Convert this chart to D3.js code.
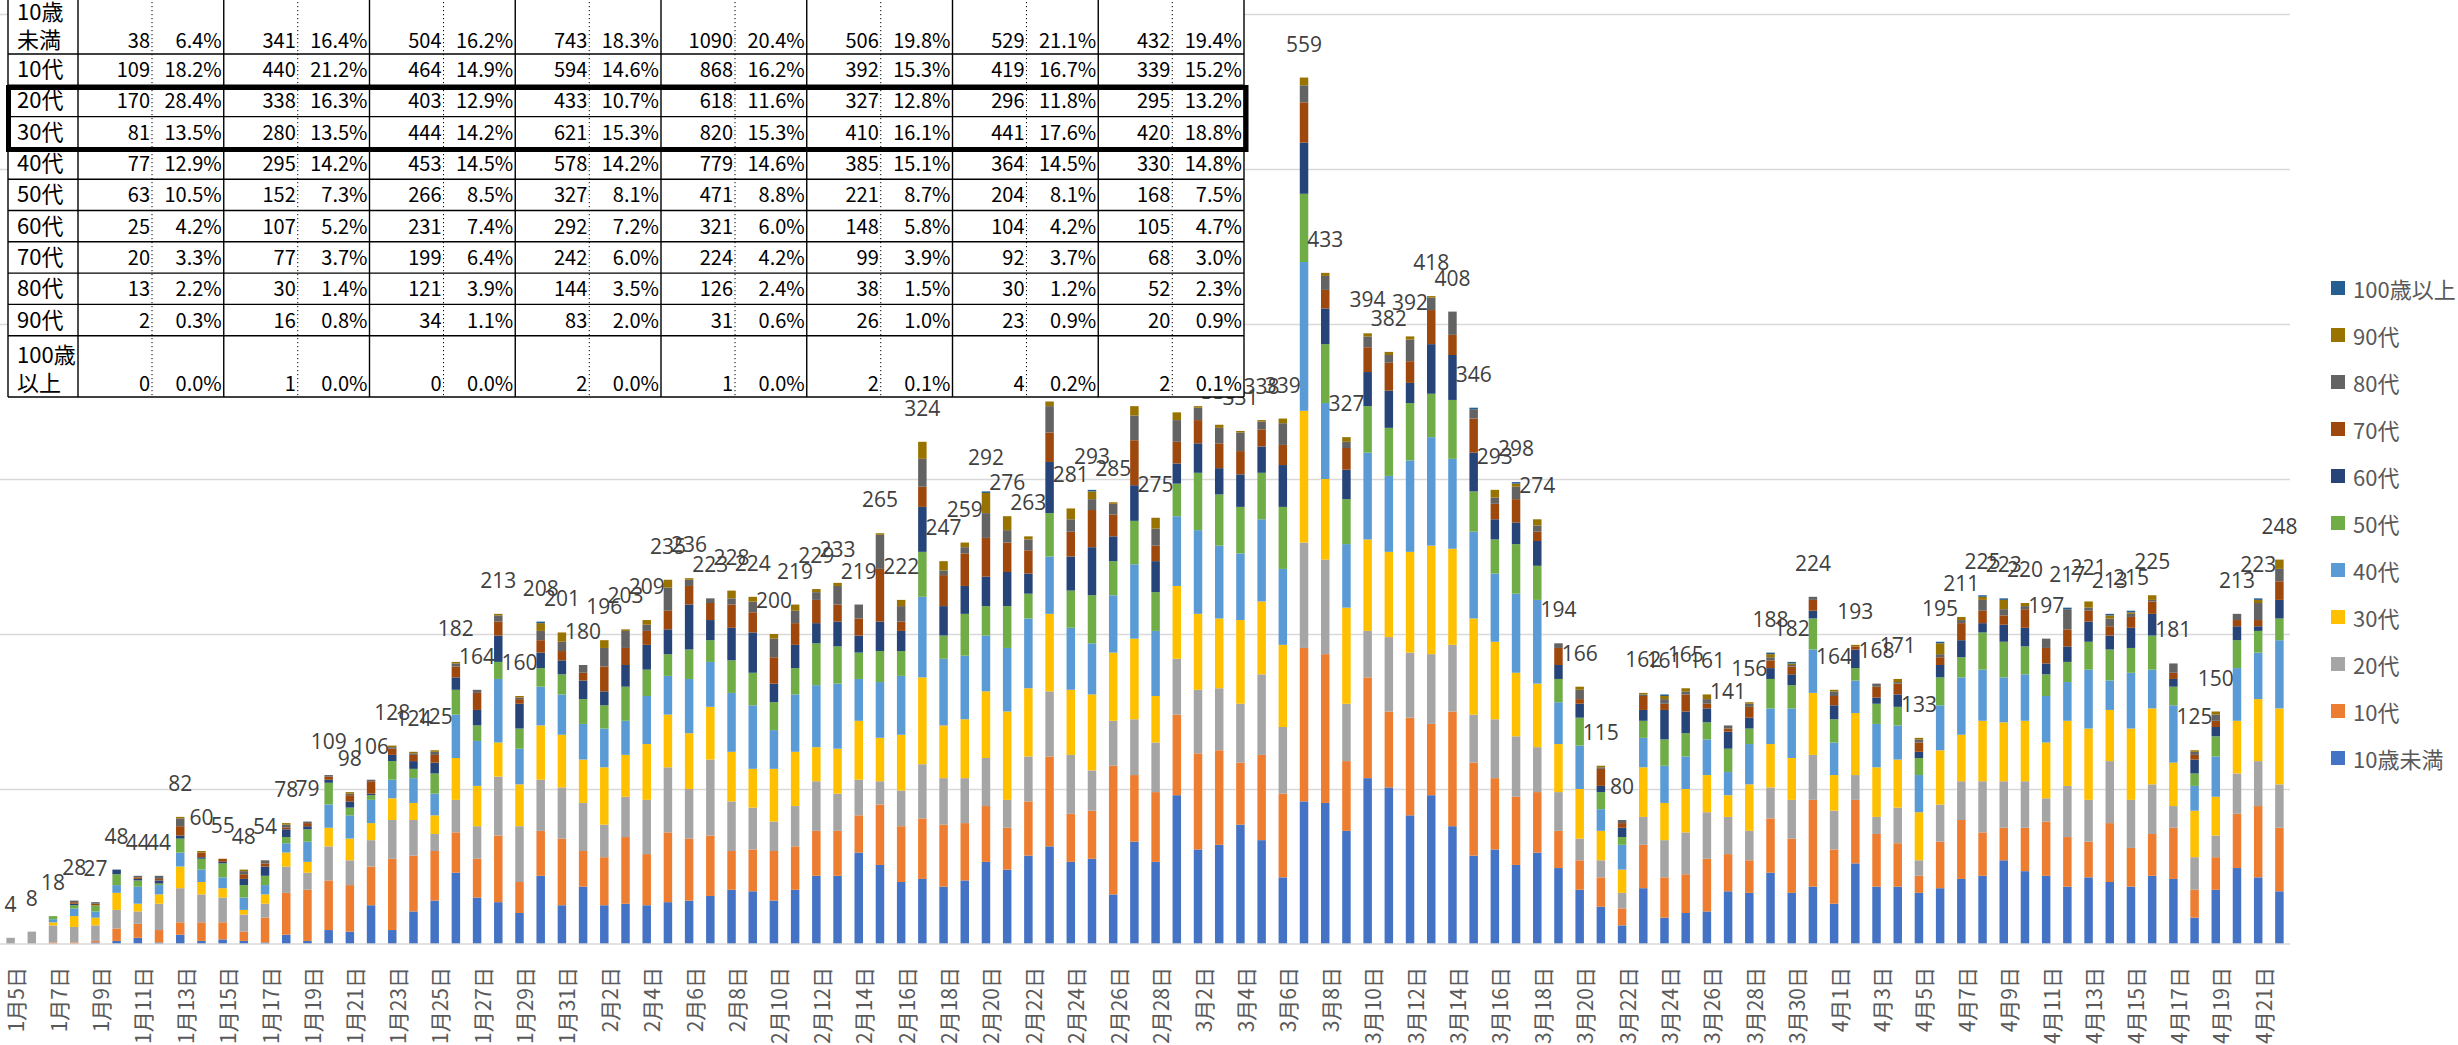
<!DOCTYPE html>
<html><head><meta charset="utf-8">
<script src="https://cdn.jsdelivr.net/npm/d3@7"></script>
<style>
html,body{margin:0;padding:0;background:#fff;overflow:hidden;}
svg{display:block;}
</style></head><body>
<svg id="chart" width="2458" height="1045"></svg>
<script>
// ---------- categories ----------
const dates = [
"1月5日","1月6日","1月7日","1月8日","1月9日","1月10日","1月11日","1月12日","1月13日","1月14日","1月15日","1月16日","1月17日","1月18日","1月19日","1月20日","1月21日","1月22日","1月23日",
"1月24日","1月25日","1月26日","1月27日","1月28日","1月29日","1月30日","1月31日","2月1日","2月2日","2月3日","2月4日","2月5日","2月6日","2月7日","2月8日","2月9日","2月10日","2月11日",
"2月12日","2月13日","2月14日","2月15日","2月16日","2月17日","2月18日","2月19日","2月20日","2月21日","2月22日","2月23日","2月24日","2月25日","2月26日","2月27日","2月28日","3月1日","3月2日","3月3日",
"3月4日","3月5日","3月6日","3月7日","3月8日","3月9日","3月10日","3月11日","3月12日","3月13日","3月14日","3月15日","3月16日","3月17日","3月18日","3月19日","3月20日","3月21日",
"3月22日","3月23日","3月24日","3月25日","3月26日","3月27日","3月28日","3月29日","3月30日","3月31日","4月1日","4月2日","4月3日","4月4日","4月5日","4月6日","4月7日","4月8日","4月9日",
"4月10日","4月11日","4月12日","4月13日","4月14日","4月15日","4月16日","4月17日","4月18日","4月19日","4月20日","4月21日","4月22日"];

const seriesNames = ["10歳未満","10代","20代","30代","40代","50代","60代","70代","80代","90代","100歳以上"];
const seriesColors = ["#4472C4","#ED7D31","#A5A5A5","#FFC000","#5B9BD5","#70AD47","#264478","#9E480E","#636363","#997300","#255E91"];

// ---------- series values (daily counts) ----------
const under10 = [0,0,0,0,1,2,4,1,6,2,3,2,1,6,2,9,8,25,9,
 21,28,46,30,27,20,44,25,37,25,26,25,27,28,31,35,34,28,35,
 44,44,59,51,40,42,37,41,53,48,57,63,53,55,32,66,53,96,61,64,
 77,67,43,92,91,73,107,101,83,96,76,57,61,51,59,49,35,24,
 12,36,17,20,21,34,33,46,33,37,26,52,37,37,33,36,42,44,54,
 47,44,37,43,40,37,44,42,17,35,49,43,34];
const age10s = [0,0,1,1,1,8,9,8,8,12,11,6,16,27,33,32,30,25,46,
 36,32,26,25,43,20,29,43,23,31,43,33,45,40,39,25,27,32,28,
 29,29,24,39,36,39,40,37,36,27,35,58,31,31,83,43,45,52,62,61,
 40,55,54,99,96,45,65,49,63,46,74,60,46,44,39,24,19,19,
 11,28,26,25,34,24,21,35,35,56,35,41,34,28,11,30,38,28,21,
 28,35,32,23,38,25,27,33,18,21,35,46,41];
const age20s = [4,8,11,10,10,12,8,17,22,18,16,11,9,17,11,22,16,17,25,
 23,11,21,21,38,36,33,33,31,21,26,35,42,32,49,32,27,19,26,
 32,24,23,15,23,35,30,29,31,18,29,42,38,26,29,36,32,36,41,40,
 38,52,43,68,61,37,30,48,42,45,43,31,38,39,29,25,14,11,
 10,18,24,27,30,24,19,20,25,29,25,16,11,23,10,24,25,33,30,
 30,15,33,27,40,31,32,14,21,14,26,29,28];
const age30s = [0,0,2,7,5,11,5,6,14,8,6,3,6,9,7,12,14,11,14,
 11,12,27,26,22,27,35,34,28,37,27,36,34,36,34,32,25,34,35,
 22,29,38,28,36,56,34,38,43,57,44,50,42,49,44,52,30,47,49,45,
 54,47,53,85,52,62,59,55,65,70,62,62,50,41,41,31,32,19,
 15,32,24,28,24,14,30,28,27,40,23,40,32,31,31,35,30,39,38,
 39,36,42,46,33,46,49,28,30,25,34,40,49];
const age40s = [0,0,2,5,4,5,11,6,9,8,7,8,6,6,13,15,15,15,12,
 16,14,28,29,41,23,25,26,23,25,22,31,25,35,29,38,41,25,37,
 40,42,27,36,38,52,43,41,36,41,45,37,40,33,37,48,42,45,54,47,
 43,53,49,96,49,41,56,49,59,70,58,56,44,51,54,27,28,14,
 16,19,24,21,23,15,26,23,32,28,21,21,28,22,24,29,37,33,29,
 30,30,25,38,19,36,25,37,16,26,34,30,44];
const age50s = [0,0,2,2,4,7,4,1,9,7,9,8,6,4,8,14,5,3,12,
 6,13,16,10,11,13,12,13,16,15,22,17,14,19,14,21,21,18,17,
 27,24,17,20,16,29,15,27,19,27,16,28,24,31,22,28,25,21,37,33,
 30,30,40,44,38,29,30,31,37,28,38,26,22,32,22,15,18,11,
 5,11,17,15,11,15,10,19,15,20,15,8,13,12,11,18,13,24,23,
 18,14,13,18,20,16,22,12,8,13,18,14,14];
const age60s = [0,0,0,1,0,3,1,2,2,1,1,4,6,5,2,2,4,1,4,
 5,7,8,10,17,16,10,9,12,9,14,16,16,29,13,21,26,12,15,
 13,16,11,19,13,29,19,18,19,22,13,33,22,31,16,23,20,13,19,17,
 21,17,27,33,23,19,22,24,13,32,29,25,13,14,16,9,9,4,
 6,7,19,14,9,11,7,7,7,5,9,12,4,8,4,8,11,6,11,
 12,7,10,13,9,13,14,5,9,6,9,3,12];
const age70s = [0,0,0,1,1,0,1,1,6,3,2,3,2,1,2,2,4,8,4,
 4,5,7,11,9,3,8,6,5,16,11,9,12,12,11,15,13,17,14,
 15,11,11,34,6,13,20,21,25,19,15,19,16,24,14,29,10,14,15,16,
 15,11,13,26,12,14,16,18,14,22,13,22,10,15,6,11,3,11,
 3,9,4,11,3,2,7,5,5,7,6,2,7,7,6,5,11,8,6,
 12,10,11,7,6,7,8,4,3,4,4,4,12];
const age80s = [0,0,0,1,1,0,1,2,5,0,0,2,2,2,1,1,1,1,1,
 1,2,2,2,4,1,6,6,5,12,11,4,15,4,3,4,7,12,8,
 5,12,9,22,10,18,3,4,16,8,7,17,8,7,7,16,11,14,8,10,
 12,5,14,11,9,4,7,5,14,8,15,6,4,8,4,3,6,1,
 2,1,3,2,3,2,2,2,1,2,3,0,2,1,2,2,2,7,4,
 2,6,13,2,5,2,1,6,2,4,4,11,8];
const age90s = [0,0,0,0,0,0,0,0,1,1,0,1,0,1,0,0,1,0,1,
 1,1,1,0,1,1,5,6,0,5,1,3,5,1,0,5,3,3,4,
 2,2,0,1,4,11,6,3,13,9,2,3,7,5,1,6,7,5,1,2,
 1,1,3,5,2,3,2,2,2,1,0,0,5,2,4,0,2,1,
 0,1,2,2,3,0,1,2,1,0,1,1,0,2,1,7,2,2,6,
 2,0,0,4,2,1,3,0,1,2,0,2,6];
const age100plus = [0,0,0,0,0,0,0,0,0,0,0,0,0,0,0,0,0,0,0,
 0,0,0,0,0,0,1,0,0,0,0,0,0,0,0,0,0,0,0,
 0,0,0,0,0,0,0,0,1,0,0,0,0,1,0,0,0,0,0,0,
 0,0,0,0,0,0,0,0,0,0,0,1,0,1,0,0,0,0,
 0,0,1,0,0,0,0,1,1,0,0,0,0,0,0,1,0,1,1,
 0,0,1,0,1,1,0,0,0,0,0,1,0];
const seriesValues = [under10, age10s, age20s, age30s, age40s, age50s, age60s, age70s, age80s, age90s, age100plus];

const yTicks = [100,200,300,400,500,600];

// ---------- overlay table (period totals by age group) ----------
const tableRowLabels = [["10歳","未満"],["10代"],["20代"],["30代"],["40代"],["50代"],["60代"],["70代"],["80代"],["90代"],["100歳","以上"]];
const period1 = [38,109,170,81,77,63,25,20,13,2,0];
const period2 = [341,440,338,280,295,152,107,77,30,16,1];
const period3 = [504,464,403,444,453,266,231,199,121,34,0];
const period4 = [743,594,433,621,578,327,292,242,144,83,2];
const period5 = [1090,868,618,820,779,471,321,224,126,31,1];
const period6 = [506,392,327,410,385,221,148,99,38,26,2];
const period7 = [529,419,296,441,364,204,104,92,30,23,4];
const period8 = [432,339,295,420,330,168,105,68,52,20,2];
const periods = [period1,period2,period3,period4,period5,period6,period7,period8];

// ---------- build ----------
const svg = d3.select("#chart");
const rows = dates.map((d,i)=>{ const o={date:d}; seriesNames.forEach((s,k)=>o[s]=seriesValues[k][i]); return o; });
const stacked = d3.stack().keys(seriesNames)(rows);
const color = d3.scaleOrdinal().domain(seriesNames).range(seriesColors);

const x = d3.scaleBand().domain(dates).range([0,2290]).paddingInner(0.6).paddingOuter(0.3);
const y = d3.scaleLinear().domain([0,600]).range([944,14]);

// gridlines
const grid = svg.append("g").attr("class","grid");
grid.call(d3.axisLeft(y).tickValues(yTicks).tickSize(-2290).tickFormat(""));
grid.select(".domain").remove();
grid.selectAll("line").attr("stroke","#D9D9D9").attr("stroke-width",1.5);

// bars
svg.append("g").selectAll("g").data(stacked).join("g")
  .attr("fill", d=>color(d.key))
  .selectAll("rect").data(d=>d).join("rect")
  .attr("x", d=>x(d.data.date))
  .attr("width", x.bandwidth())
  .attr("y", d=>y(d[1]))
  .attr("height", d=>Math.max(0, y(d[0])-y(d[1])));

// baseline
svg.append("line").attr("x1",0).attr("x2",2290).attr("y1",y(0)).attr("y2",y(0))
  .attr("stroke","#D9D9D9").attr("stroke-width",1.5);

// x axis labels
const xAxis = svg.append("g").attr("transform",`translate(0,${y(0)})`)
  .call(d3.axisBottom(x).tickValues(dates.filter((d,i)=>i%2===0)).tickSize(0));
xAxis.select(".domain").remove();
xAxis.selectAll("text")
  .attr("x",0).attr("y",0).attr("dy",null)
  .attr("transform","translate(4.5,23) rotate(-90)")
  .attr("text-anchor","end")
  .attr("dominant-baseline","central")
  .attr("fill","#595959")
  .style("font-family","'Noto Sans CJK JP','Noto Sans',sans-serif")
  .style("font-size","21px");

// data labels (totals)
svg.append("g").selectAll("text").data(rows).join("text")
  .attr("x", d=>x(d.date)+x.bandwidth()/2)
  .attr("y", d=>y(d3.sum(seriesNames, s=>d[s])) - 26)
  .attr("text-anchor","middle")
  .attr("fill","#404040")
  .style("font-family","'Open Sans','Noto Sans',sans-serif")
  .style("font-size","21px")
  .text(d=>d3.sum(seriesNames, s=>d[s]));

// legend
const legend = svg.append("g");
const legendOrder = seriesNames.slice().reverse();
legendOrder.forEach((s,k)=>{
  const cy = 288 + k*47;
  legend.append("rect").attr("x",2331).attr("y",cy-7).attr("width",14).attr("height",14).attr("fill",color(s));
  legend.append("text").attr("x",2353).attr("y",cy).attr("dominant-baseline","central")
    .attr("fill","#595959").style("font-family","'Noto Sans CJK JP','Noto Sans',sans-serif")
    .style("font-size","22px").text(s);
});

// table overlay
const T = svg.append("g");
const tLeft = 8, tLabelRight = 78, tRight = 1244;
const colW = (tRight - tLabelRight)/periods.length;
const dotOff = 74;
const rowY = [-10,54,85.3,116.6,147.9,179.2,210.5,241.8,273.1,304.4,335.7,397];
T.append("rect").attr("x",tLeft).attr("y",-10).attr("width",tRight-tLeft).attr("height",407).attr("fill","#fff");
// dotted column separators
periods.forEach((p,c)=>{
  const cx = tLabelRight + c*colW + dotOff;
  T.append("line").attr("x1",cx).attr("x2",cx).attr("y1",-10).attr("y2",397)
    .attr("stroke","#000").attr("stroke-width",1).attr("stroke-dasharray","1.2,2.8");
});
// solid lines
[tLeft, tLabelRight].concat(periods.map((p,c)=>tLabelRight+(c+1)*colW)).forEach(vx=>{
  T.append("line").attr("x1",vx).attr("x2",vx).attr("y1",-10).attr("y2",397).attr("stroke","#000").attr("stroke-width",1.4);
});
rowY.slice(1).forEach(hy=>{
  T.append("line").attr("x1",tLeft).attr("x2",tRight).attr("y1",hy).attr("y2",hy).attr("stroke","#000").attr("stroke-width",1.4);
});
// texts
const tFont = "'Noto Sans CJK JP','Noto Sans',sans-serif";
tableRowLabels.forEach((lab,r)=>{
  let base;
  if (r===0) base = 48; else if (r===tableRowLabels.length-1) base = 391; else base = (rowY[r]+rowY[r+1])/2 + 7.5;
  lab.forEach((line,li)=>{
    const yy = base - (lab.length-1-li)*28;
    T.append("text").attr("x",17).attr("y",yy).attr("fill","#000")
      .style("font-family",tFont).style("font-size","22px").text(line);
  });
  periods.forEach((p,c)=>{
    const total = d3.sum(p);
    const cl = tLabelRight + c*colW;
    T.append("text").attr("x",cl+dotOff-2).attr("y",base).attr("text-anchor","end").attr("fill","#000")
      .style("font-family",tFont).style("font-size","20px").text(p[r]);
    T.append("text").attr("x",cl+colW-2).attr("y",base).attr("text-anchor","end").attr("fill","#000")
      .style("font-family",tFont).style("font-size","20px").text((p[r]/total*100).toFixed(1)+"%");
  });
});
// thick highlight box (20代・30代)
T.append("rect").attr("x",8.5).attr("y",87.5).attr("width",1237.5).attr("height",62)
  .attr("fill","none").attr("stroke","#000").attr("stroke-width",5);
</script>
</body></html>
